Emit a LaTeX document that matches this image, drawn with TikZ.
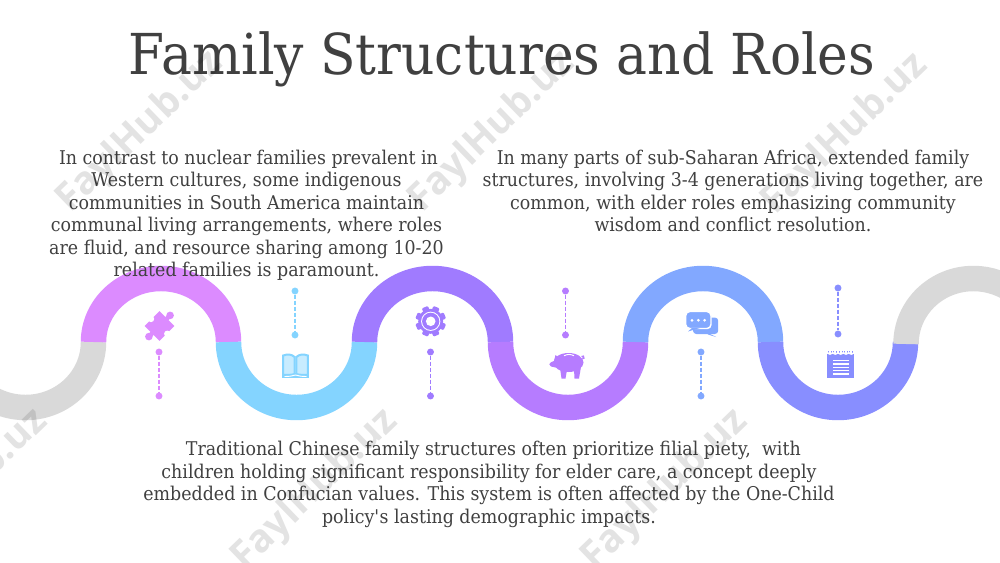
\documentclass[tikz,border=0pt]{standalone}
\usepackage{fontspec}
\setmainfont[FakeStretch=0.92]{DejaVu Serif}
\newfontfamily\markfont{Open Sans}
\usepackage{tikz}
\usetikzlibrary{positioning,calc}
\definecolor{txtgray}{HTML}{404040}
\definecolor{bandgray}{HTML}{D9D9D9}
\definecolor{bandpink}{HTML}{DC8BFF}
\definecolor{bandsky}{HTML}{84D4FF}
\definecolor{bandviolet}{HTML}{A07BFF}
\definecolor{bandpurple}{HTML}{B67CFF}
\definecolor{bandblue}{HTML}{82A8FF}
\definecolor{bandindigo}{HTML}{888EFF}
\tikzset{
  band/.style={line width=19.1pt},
  bodytext/.style={text=txtgray, align=center, anchor=north, inner sep=0pt,
    font=\fontsize{14.2}{16.85}\selectfont},
  wmark/.style={text=black, opacity=.11, rotate=44, font=\markfont\bfseries\fontsize{29}{29}\selectfont},
  dotnode/.style={circle, fill=#1, inner sep=0pt, minimum size=5.2pt},
  link/.style={dashed, dash pattern=on 3pt off 1.5pt, line width=1.3pt}
}
\begin{document}
\begin{tikzpicture}[x=.75pt,y=.75pt]
\useasboundingbox (0,0) rectangle (1000,562);
\clip (0,0) rectangle (1000,562);
\fill[white] (0,0) rectangle (1000,562);

% wave
\draw[band,bandgray] (93.5,220) arc[start angle=0,end angle=-120,x radius=68,y radius=65.5];
\draw[band,bandpink] (93.5,220) arc[start angle=180,end angle=0,x radius=67.5,y radius=63.5];
\draw[band,bandsky] (228.5,220) arc[start angle=180,end angle=360,x radius=68,y radius=65.5];
\draw[band,bandviolet] (364.5,220) arc[start angle=180,end angle=0,x radius=68,y radius=63.5];
\draw[band,bandpurple] (500.5,220) arc[start angle=180,end angle=360,x radius=67.5,y radius=65.5];
\draw[band,bandblue] (635.5,220) arc[start angle=180,end angle=0,x radius=67.5,y radius=63.5];
\draw[band,bandindigo] (770.5,220) arc[start angle=180,end angle=360,x radius=67.5,y radius=65.5];
\draw[band,bandgray] (906,218) arc[start angle=180,end angle=50,x radius=67.5,y radius=65.5];

% dashed links
\foreach \name/\x/\ya/\yb/\col in {pink/159/210/166/bandpink, sky/295/271/227/bandsky,
  violet/430.5/210/166/bandviolet, purple/565.5/271/227/bandpurple,
  blue/701/210/166/bandblue, indigo/838/274/228/bandindigo} {
  \node[dotnode=\col] (\name top) at (\x,\ya) {};
  \node[dotnode=\col] (\name bot) at (\x,\yb) {};
  \draw[link,\col] (\name top) -- (\name bot);
}

% puzzle
\begin{scope}[shift={(159.5,236)},rotate=45]
\fill[bandpink] (-10.5,-10.5) rectangle (10.5,10.5);
\fill[bandpink] (10,-2.2) rectangle (14,2.2) (-14,-2.2) rectangle (-10,2.2);
\fill[bandpink] (15,0) circle (3.8) (-15,0) circle (3.8);
\fill[white] (0,-11) circle (3.2) (-1,11) circle (3.2);
\end{scope}

% book
\begin{scope}[shift={(295.5,196)}]
\fill[bandsky] (-13.5,-12) rectangle (13.5,-7);
\foreach \s in {-1,1} {
  \draw[bandsky,line width=1.5pt,fill=bandsky!45] (\s*.9,-8) -- (\s*.9,9) .. controls (\s*4,12) and (\s*8,12) .. (\s*12.3,10.5) -- (\s*12.3,-9) .. controls (\s*8,-9) and (\s*4,-9) .. (\s*.9,-8) -- cycle;
}
\draw[white,line width=.7pt] (-11,-10.5) .. controls (-6,-10.5) and (-3,-10) .. (0,-9) .. controls (3,-10) and (6,-10.5) .. (11,-10.5);
\end{scope}

% gear
\begin{scope}[shift={(430.7,240.7)}]
\fill[bandviolet] (0,0) circle (12.5);
\foreach \a in {0,45,...,315} {
  \fill[bandviolet,rotate=\a+22.5,rounded corners=.8pt] (-3.3,10) rectangle (3.3,15.3);
}
\fill[white] (0,0) circle (9.6);
\fill[bandviolet] (0,0) circle (8.6);
\fill[white] (0,0) circle (4.8);
\end{scope}

% pig
\begin{scope}[shift={(566,200)}]
\fill[bandpurple] (2.5,-.5) ellipse (15 and 9.5);
\fill[bandpurple] (-8,-6) -- (-15,-4.5) .. controls (-17.5,-3.5) and (-17,-1) .. (-15,-.2) -- (-12,1) -- (-10.5,7) -- (-7,4) -- cycle;
\fill[bandpurple] (-6,-6) -- (-4.5,-16.5) -- (-.5,-16.5) -- (1,-8) -- cycle;
\fill[bandpurple] (8,-7) -- (8.5,-16.5) -- (13,-16.5) -- (15,-5) -- cycle;
\draw[bandpurple,line width=.8pt] (16,3) .. controls (18,3) and (19,4) .. (17.5,6) .. controls (16,6.5) and (15.5,5) .. (17,4.5);
\draw[white,line width=.7pt] (-2,6.2) .. controls (1,8) and (5,8) .. (8,6.2);
\end{scope}

% chat
\fill[bandblue,rounded corners=2.5pt] (693,244.5) rectangle (718.2,228);
\fill[bandblue] (706,230) -- (716,225) -- (708,227.5) -- cycle;
\draw[white,line width=1.1pt,fill=bandblue,rounded corners=3pt] (685.7,250.5) rectangle (711,233.5);
\fill[bandblue] (700,234) -- (688,230.5) -- (692,234) -- cycle;
\foreach \x in {692,698.3,704.6} \fill[white] (\x,241.7) circle (1.5);

% notepad
\fill[bandindigo] (827.3,184.5) rectangle (854.3,208.5);
\foreach \x in {830,835.3,840.7,846,851.3} {
  \draw[bandindigo,line width=.9pt] (\x-1.5,209) -- (\x-1.5,211) (\x+1.5,209) -- (\x+1.5,211);
  \draw[white,line width=.7pt] (\x,208) ++(-2,1.6) arc[start angle=180,end angle=360,radius=2];
}
\foreach \y in {188,191.2,194.6,198,201.3} \draw[white,line width=.9pt] (833,\y) -- (849,\y);

% texts
\node[text=txtgray,inner sep=0pt,font=\fontsize{42.3}{50}\selectfont] (title) at (502,503) {Family Structures and Roles};
\node[bodytext] (leftnote) at (246.5,412.5) {\hspace*{3pt}In contrast to nuclear families prevalent in\\Western cultures, some indigenous\\communities in South America maintain\\communal living arrangements, where roles\\are fluid, and resource sharing among 10-20\\related families is paramount.};
\node[bodytext] (rightnote) at (733,412.5) {In many parts of sub-Saharan Africa, extended family\\structures, involving 3-4 generations living together, are\\common, with elder roles emphasizing community\\wisdom and conflict resolution.};
\node[bodytext] (bottomnote) at (489,121) {\hspace*{6.5pt}Traditional Chinese family structures often prioritize filial piety,~ with\\children holding significant responsibility for elder care, a concept deeply\\embedded in Confucian values. This system is often affected by the One-Child\\policy\textquotesingle s lasting demographic impacts.};

% watermarks
\foreach \name/\x/\y in {wmA/140/430, wmB/492/430, wmC/845/428, wmD/-35/72, wmE/315/72, wmF/665/72} {
  \node[wmark] (\name) at (\x,\y) {FaylHub.uz};
}
\end{tikzpicture}
\end{document}
